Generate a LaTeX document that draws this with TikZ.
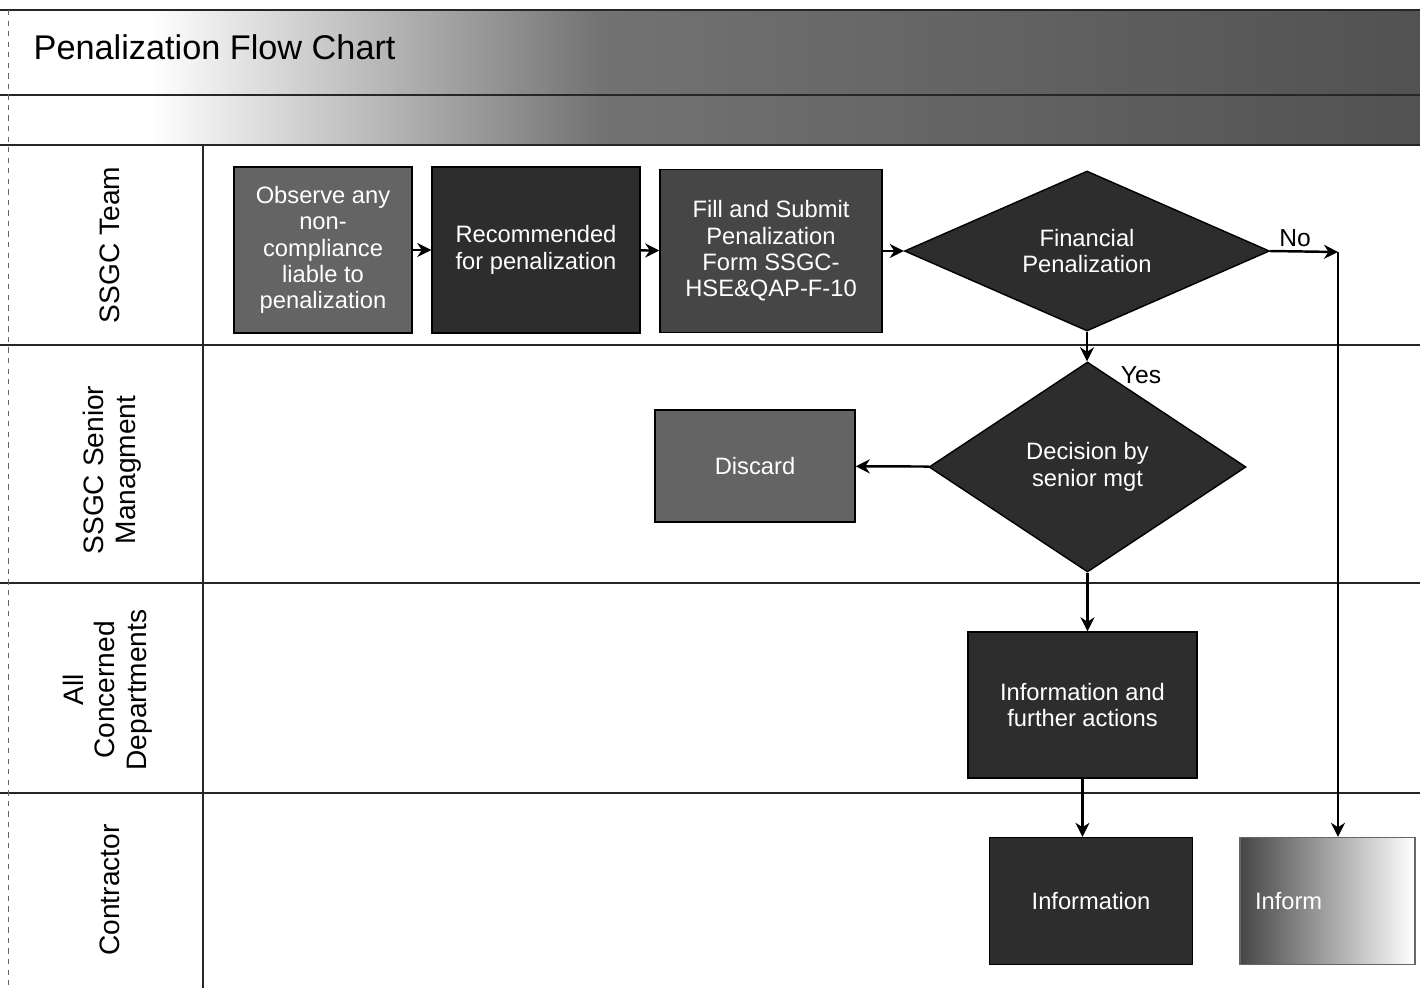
\documentclass[tikz,border=0pt]{standalone}
\usepackage{fontspec}
\setmainfont{Liberation Sans}
\setsansfont{Liberation Sans}
\usepackage{xcolor}
\definecolor{boxgrey}{RGB}{70,70,70}
\definecolor{boxdark}{RGB}{45,45,45}
\definecolor{boxlight}{RGB}{100,100,100}
\usetikzlibrary{
  arrows.meta,
  positioning,
  shapes.geometric
}

\begin{document}
\begin{tikzpicture}[
  task/.style={
    draw=black, fill=boxgrey, text=white, thick,
    font=\fontsize{13.5}{15}\selectfont\sffamily, align=center, inner sep=2pt
  },
  choice/.style={
    draw=black, diamond, fill=boxdark, text=white, thick, inner sep=0pt,
    font=\fontsize{13.5}{15}\selectfont\sffamily, align=center
  },
  lane/.style={rotate=90, font=\fontsize{16}{18}\selectfont\sffamily, align=center},
  lanerule/.style={line width=0.9pt, black!85},
  arr/.style={-{Stealth[length=8pt,width=8pt]}, line width=1.4pt, black},
  tag/.style={font=\fontsize{14}{16}\selectfont\sffamily},
]
\useasboundingbox (0,0) rectangle (28.4,-19.76);

% title band
\shade[left color=white, right color=black!55] (3,-0.2) rectangle (12,-2.9);
\shade[left color=black!55, right color=black!68] (12,-0.2) rectangle (28.4,-2.9);
\node[anchor=west, font=\fontsize{19.5}{22}\selectfont\sffamily] (title) at (0.55,-0.95) {Penalization Flow Chart};

% lanes
\draw[lanerule] (0,-0.2) -- (28.4,-0.2);
\draw[lanerule] (0,-1.9) -- (28.4,-1.9);
\draw[lanerule] (0,-2.9) -- (28.4,-2.9);
\draw[lanerule] (0,-6.9) -- (28.4,-6.9);
\draw[lanerule] (0,-11.66) -- (28.4,-11.66);
\draw[lanerule] (0,-15.86) -- (28.4,-15.86);
\draw[lanerule] (4.06,-2.9) -- (4.06,-19.76);
\draw[black!60, dashed] (0.16,-0.2) -- (0.16,-19.76);

\node[lane] (team)   at (2.2,-4.9)   {SSGC Team};
\node[lane] (senior) at (2.25,-9.4)  {SSGC Senior\\Managment};
\node[lane] (depts)  at (2.15,-13.8) {All\\Concerned\\Departments};
\node[lane] (contr)  at (2.2,-17.8)  {Contractor};

% steps
\node[task, fill=boxlight, minimum width=3.56cm, minimum height=3.32cm] (observe) at (6.46,-5.0)
  {Observe any\\non-\\compliance\\liable to\\penalization};
\node[task, fill=boxdark, minimum width=4.16cm, minimum height=3.32cm] (recom) at (10.72,-5.0)
  {Recommended\\for penalization};
\node[task, minimum width=4.44cm, minimum height=3.26cm] (form) at (15.42,-5.02)
  {Fill and Submit\\Penalization\\Form SSGC-\\HSE\&QAP-F-10};
\node[choice, shape aspect=2.3, minimum width=7.3cm, minimum height=3.2cm] (finpen) at (21.74,-5.02)
  {Financial\\Penalization};
\node[choice, shape aspect=1.5, minimum width=6.34cm, minimum height=4.2cm] (decide) at (21.75,-9.34)
  {Decision by\\senior mgt};
\node[task, fill=boxlight, minimum width=4.0cm, minimum height=2.24cm] (discard) at (15.1,-9.32)
  {Discard};
\node[task, fill=boxdark, minimum width=4.58cm, minimum height=2.92cm] (further) at (21.65,-14.1)
  {Information and\\further actions};
\node[task, fill=boxdark, minimum width=4.06cm, minimum height=2.54cm] (info) at (21.82,-18.02)
  {Information};
\node[task, left color=boxgrey, right color=white, draw=black!60,
  minimum width=3.5cm, minimum height=2.54cm, text width=2.9cm, align=left] (inform) at (26.55,-18.02)
  {Inform};

\coordinate (nobend) at (26.76,-5.04);

% connectors
\draw[arr] (observe) -- (recom);
\draw[arr] (recom)   -- (form);
\draw[arr] (form)    -- (finpen);
\draw[arr] (finpen.east) -- (nobend);
\draw[arr] (nobend) -- (nobend |- inform.north);
\draw[arr] (finpen.south) -- (finpen.south |- decide.north);
\draw[arr] (decide)  -- (discard);
\draw[arr] (decide.south) -- (decide.south |- further.north);
\draw[arr] (further.south) -- (further.south |- info.north);

\node[tag] (nolbl)  at (25.9,-4.76) {No};
\node[tag] (yeslbl) at (22.82,-7.5) {Yes};

\end{tikzpicture}
\end{document}
